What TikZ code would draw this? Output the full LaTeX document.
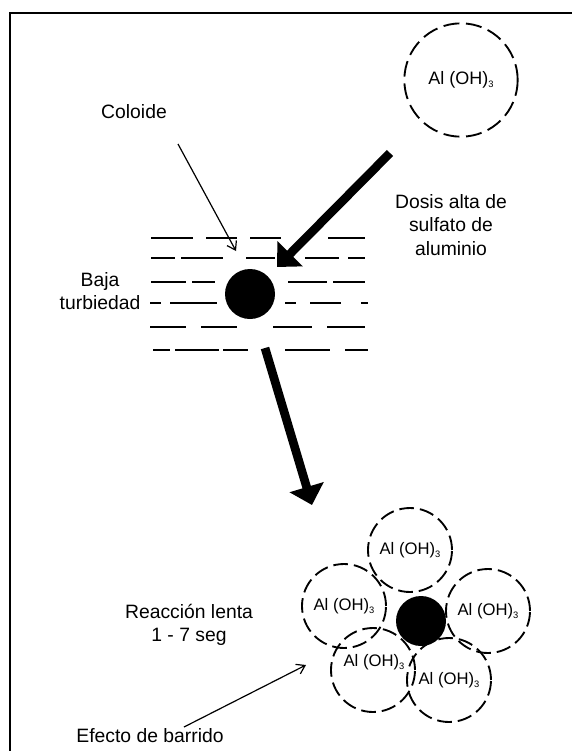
\documentclass[tikz,border=0pt]{standalone}
\usepackage{fontspec}
\setmainfont{Liberation Sans}
\usetikzlibrary{arrows.meta}
\newcommand{\alsub}{Al (OH)\raisebox{-0.35ex}{\scriptsize 3}}
\begin{document}
\begin{tikzpicture}[x=0.75pt,y=-0.75pt,
 lbl/.style={font=\fontsize{14.5}{17.5}\selectfont, align=center, inner sep=0pt},
 alcirc/.style={circle, draw, line width=1.4pt, dash pattern=on 11pt off 4.5pt, minimum size=63pt, inner sep=0pt, font=\fontsize{12.5}{14}\selectfont},
 albig/.style={alcirc, minimum size=85pt, dash pattern=on 12pt off 5pt, font=\fontsize{13.5}{15}\selectfont},
 disk/.style={circle, fill=black, minimum size=37.5pt, inner sep=0pt},
 water/.style={line width=1.6pt},
 frame/.style={line width=1.5pt},
 bigarrow/.style={line width=6.5pt, -{Triangle[length=14pt,width=26pt]}},
 thinarrow/.style={line width=0.9pt, -{Straight Barb[length=6pt,width=8pt]}},
]
\useasboundingbox (0,0) rectangle (572,751);
% frame
\draw[frame] (572,13) -- (10,13) -- (10,751);

% top coagulant
\node[albig] (top) at (461,80) {\alsub};

% labels
\node[lbl] (coloide) at (134,112) {Coloide};
\node[lbl] (dosis) at (451,225) {Dosis alta de\\sulfato de\\aluminio};
\node[lbl] (baja) at (100,291) {Baja\\turbiedad};
\node[lbl] (reac) at (189,625) {Reacción lenta\\1 - 7 seg};
\node[lbl] (efecto) at (150,736) {Efecto de barrido};

% water lines
\draw[water]
 (151,238)--(193,238) (206,238)--(237,238) (250,238)--(281,238) (328,238)--(365,238)
 (151,258)--(175,258) (181,258)--(223,258) (246,258)--(275,258) (305,258)--(339,258) (348,258)--(365,258)
 (151,282)--(186,282) (192,282)--(215,282) (288,282)--(327,282) (333,282)--(365,282)
 (150,303)--(161,303) (170,303)--(217,303) (285,303)--(296,303) (310,303)--(341,303) (361,303)--(368,303)
 (150,327)--(186,327) (201,327)--(237,327) (273,327)--(312,327) (327,327)--(365,327)
 (153,350)--(170,350) (175,350)--(219,350) (223,350)--(248,350) (285,350)--(330,350) (345,350)--(368,350);

% colloid
\node[disk] (col) at (250,294) {};

% arrows
\coordinate (colA) at (178,144);
\coordinate (colB) at (236,251);
\draw[thinarrow] (colA) -- (colB);
\coordinate (dA) at (390,153);
\coordinate (dB) at (277,267);
\draw[bigarrow] (dA) -- (dB);
\coordinate (gA) at (265,348);
\coordinate (gB) at (312,505);
\draw[bigarrow] (gA) -- (gB);

% floc cluster
\node[alcirc] (c1) at (410,550) {\alsub};
\node[alcirc] (c2) at (344,606) {\alsub};
\node[alcirc] (c3) at (488,611) {\alsub};
\node[alcirc] (c4) at (373,670) {};
\node[lbl, font=\fontsize{12.5}{14}\selectfont] (c4t) at (374,662) {\alsub};
\node[alcirc] (c5) at (449,680) {\alsub};
\node[disk] (col2) at (421,621) {};

\coordinate (eA) at (184,727);
\coordinate (eB) at (306,665);
\draw[thinarrow] (eA) -- (eB);
\end{tikzpicture}
\end{document}
